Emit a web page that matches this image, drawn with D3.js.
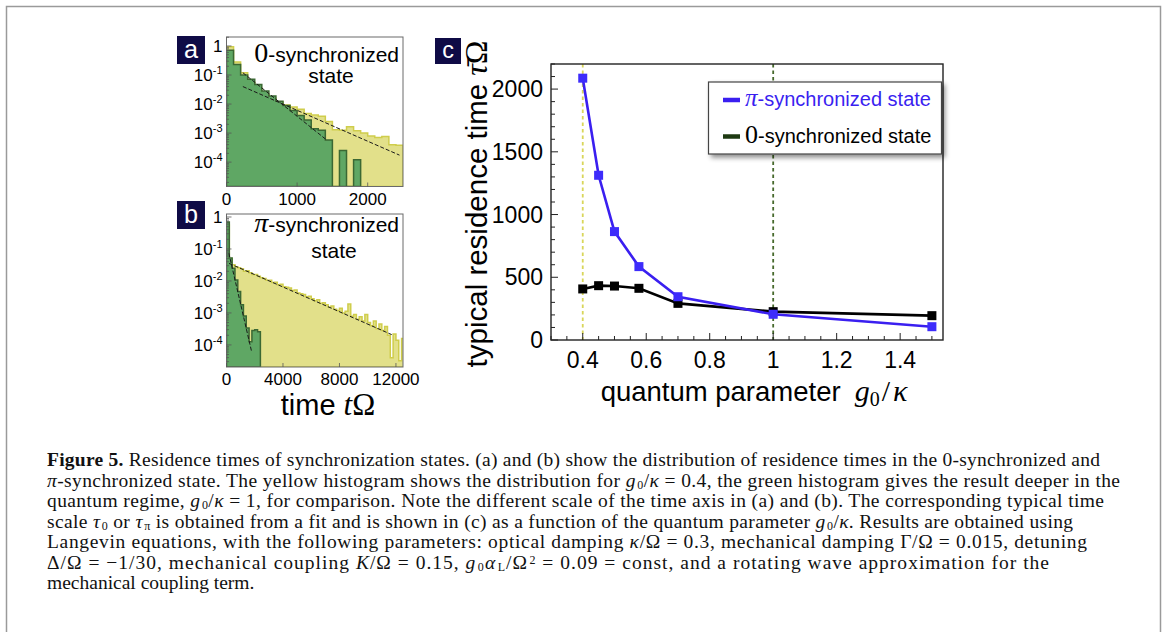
<!DOCTYPE html>
<meta charset="utf-8">
<script src="https://d3js.org/d3.v7.min.js"></script>
<style>
  body { margin: 0; background: #fff; }
</style>
<body>
<script>

// ---- panel a : 0-synchronized state, bins of 100 (time tΩ) ----
var aBinWidth = 100;
var aYellow = [0.95, 0.28, 0.12, 0.056, 0.035, 0.022, 0.0158, 0.0117, 0.0093, 0.0079, 0.0066, 0.0047, 0.0042,
               0.0038, 0.0025, 0.0013, 0.00126, 0.00166, 0.0012, 0.001, 0.00079, 0.00071, 0.00076, 0.0004, 0.00038];
var aGreen = [0.72, 0.23, 0.1, 0.071, 0.047, 0.028, 0.019, 0.0126, 0.0089, 0.006, 0.004, 0.0028, 0.0014,
              0.00126, 0.00058, 0, 0.00025, 0, 0.00012];
var aFitYellow = [[232, 0.04], [2450, 0.000174]];
var aFitGreen = [[232, 0.12], [1420, 0.000575]];
var aXTicks = [0, 1000, 2000];

// ---- panel b : pi-synchronized state, bins of 200 ----
var bBinWidth = 200;
var bYellow = [0.56, 0.05, 0.032, 0.028, 0.026, 0.024, 0.02, 0.021, 0.018, 0.016, 0.016, 0.014, 0.0126, 0.012,
               0.0105, 0.0105, 0.0089, 0.0091, 0.0076, 0.0079, 0.0066, 0.0063, 0.006, 0.005, 0.0052, 0.0042, 0.004,
               0.0038, 0.0032, 0.0033, 0.0028, 0.0024, 0.0026, 0.002, 0.0021, 0.0018, 0.0015, 0.00166, 0.0013,
               0.0012, 0.0014, 0.001, 0.00112, 0.0019, 0.00079, 0.00089, 0.00063, 0.00076, 0.00056, 0.00089,
               0.0005, 0.0004, 0.00056, 0.00032, 0.00045, 0.00028, 0.00038, 0.0002, 0.00004, 0.00022, 0.00014,
               0.000032, 0.00016];
var bGreen = [0.7, 0.052, 0.025, 0.0107, 0.0047, 0.0018, 0.0008, 0.00034, 0.000126, 0.00028, 0.0003, 0.00026];
var bFitYellow = [[177, 0.0355], [11700, 0.00021]];
var bFitGreen = [[165, 0.074], [1785, 0.00006]];
var bXTicks = [0, 4000, 8000, 12000];

var logTickExp = [0, -1, -2, -3, -4];

// ---- panel c : typical residence time vs g0/kappa ----
var gValues = [0.4, 0.45, 0.5, 0.577, 0.7, 1.0, 1.5];
var tauPi = [2087, 1313, 864, 585, 345, 205, 106];
var tauZero = [407, 433, 430, 412, 292, 226, 194];
var cXTicks = [0.4, 0.6, 0.8, 1, 1.2, 1.4];
var cYTicks = [0, 500, 1000, 1500, 2000];
var markLines = [[0.4, "#d9d65a"], [1.0, "#46692c"]];

var captionLines = [
  [["Figure 5.", "b"], [" Residence times of synchronization states. (a) and (b) show the distribution of residence times in the 0-synchronized and", ""]],
  [["π", "i"], ["-synchronized state. The yellow histogram shows the distribution for ", ""], ["g", "i"], ["0", "sub"], ["/", ""], ["κ", "i"], [" = 0.4, the green histogram gives the result deeper in the", ""]],
  [["quantum regime, ", ""], ["g", "i"], ["0", "sub"], ["/", ""], ["κ", "i"], [" = 1, for comparison. Note the different scale of the time axis in (a) and (b). The corresponding typical time", ""]],
  [["scale ", ""], ["τ", "i"], ["0", "sub"], [" or ", ""], ["τ", "i"], ["π", "sub"], [" is obtained from a fit and is shown in (c) as a function of the quantum parameter ", ""], ["g", "i"], ["0", "sub"], ["/", ""], ["κ", "i"], [". Results are obtained using", ""]],
  [["Langevin equations, with the following parameters: optical damping ", ""], ["κ", "i"], ["/Ω = 0.3, mechanical damping Γ/Ω = 0.015, detuning", ""]],
  [["Δ/Ω = −1/30, mechanical coupling ", ""], ["K", "i"], ["/Ω = 0.15, ", ""], ["g", "i"], ["0", "sub"], ["α", "i"], ["L", "sub"], ["/Ω", ""], ["2", "sup"], [" = 0.09 = const, and a rotating wave approximation for the", ""]],
  [["mechanical coupling term.", ""]]
];
var captionEnds = [1100, 1120, 1104, 1073, 1087, 1049, 0];

var yellowFill = "#e2e08a", yellowLine = "#cfcd4c";
var greenFill = "#5fa764", greenLine = "#3b6833";
var navy = "#0f0b46";
var sans = "'Liberation Sans', Arial, sans-serif";
var serif = "'Liberation Serif', 'Times New Roman', serif";

var svg = d3.select("body").append("svg")
  .attr("width", 1165)
  .attr("height", 632)
  .style("font-family", sans);

var defs = svg.append("defs");
defs.append("filter").attr("id", "shadow")
  .attr("x", "-10%").attr("y", "-20%").attr("width", "130%").attr("height", "160%")
  .append("feDropShadow")
    .attr("dx", 3).attr("dy", 3).attr("stdDeviation", 2.5)
    .attr("flood-color", "#000").attr("flood-opacity", 0.45);

// outer frame
svg.append("rect")
  .attr("x", 6.5).attr("y", 6.5)
  .attr("width", 1154).attr("height", 660)
  .attr("fill", "none").attr("stroke", "#9a9a9a").attr("stroke-width", 1.5);

function panelLabel(x, y, w, letter) {
  svg.append("rect").attr("x", x).attr("y", y).attr("width", w).attr("height", w).attr("fill", navy);
  svg.append("text").attr("x", x + w / 2).attr("y", y + w * 0.78)
    .attr("text-anchor", "middle").attr("fill", "white")
    .style("font-size", (w * 0.9) + "px").text(letter);
}

function histPath(x, y, binW, vals, bottom) {
  var p = "M" + x(0) + "," + bottom;
  vals.forEach(function(v, i) {
    var yy = v > 0 ? y(v) : bottom;
    p += "L" + x(i * binW) + "," + yy + "L" + x((i + 1) * binW) + "," + yy;
  });
  p += "L" + x(vals.length * binW) + "," + bottom + "Z";
  return p;
}

function logPanel(id, box, xDomain, yDomain, xTicks, binW, yellow, green, fitY, fitG) {
  var x = d3.scaleLinear().domain(xDomain).range([box.l, box.r]);
  var y = d3.scaleLog().domain(yDomain).range([box.b, box.t]);

  defs.append("clipPath").attr("id", "clip" + id)
    .append("rect").attr("x", box.l).attr("y", box.t)
    .attr("width", box.r - box.l).attr("height", box.b - box.t);

  var plot = svg.append("g").attr("clip-path", "url(#clip" + id + ")");
  plot.append("path")
    .attr("d", histPath(x, y, binW, yellow, box.b))
    .attr("fill", yellowFill).attr("stroke", yellowLine).attr("stroke-width", 1.5);
  plot.append("path")
    .attr("d", histPath(x, y, binW, green, box.b))
    .attr("fill", greenFill).attr("stroke", greenLine).attr("stroke-width", 1.5);

  [fitG, fitY].forEach(function(f) {
    plot.append("line")
      .attr("x1", x(f[0][0])).attr("y1", y(f[0][1]))
      .attr("x2", x(f[1][0])).attr("y2", y(f[1][1]))
      .attr("stroke", "#1a1a1a").attr("stroke-width", 1)
      .attr("stroke-dasharray", "4,2");
  });

  svg.append("rect")
    .attr("x", box.l).attr("y", box.t)
    .attr("width", box.r - box.l).attr("height", box.b - box.t)
    .attr("fill", "none").attr("stroke", "#6a6a6a").attr("stroke-width", 1);

  // log ticks on the left, inside
  y.ticks().forEach(function(t) {
    var major = Math.abs(Math.log10(t) - Math.round(Math.log10(t))) < 1e-6;
    svg.append("line")
      .attr("x1", box.l).attr("x2", box.l + (major ? 5 : 2.5))
      .attr("y1", y(t)).attr("y2", y(t))
      .attr("stroke", "#555").attr("stroke-width", 0.8);
  });
  xTicks.forEach(function(t) {
    svg.append("line")
      .attr("x1", x(t)).attr("x2", x(t))
      .attr("y1", box.b).attr("y2", box.b - 4)
      .attr("stroke", "#555").attr("stroke-width", 0.8);
    svg.append("text")
      .attr("x", x(t)).attr("y", box.b + 18)
      .attr("text-anchor", "middle")
      .style("font-size", "17px")
      .text(t);
  });

  logTickExp.forEach(function(e) {
    var lab = svg.append("text")
      .attr("x", box.l - 4).attr("y", y(Math.pow(10, e)) + 6)
      .attr("text-anchor", "end")
      .style("font-size", "17px");
    if (e === 0) {
      lab.text("1");
    } else {
      lab.append("tspan").text("10");
      lab.append("tspan").attr("dy", -7).style("font-size", "11px").text(e);
    }
  });
  return x;
}

// panel a
panelLabel(177, 36, 28, "a");
logPanel("a", {l: 226.5, r: 403, t: 37, b: 186.5}, [0, 2500], [1.445e-5, 2.04],
  aXTicks, aBinWidth, aYellow, aGreen, aFitYellow, aFitGreen);

var ta = svg.append("text").attr("x", 399).attr("y", 62).attr("text-anchor", "end");
ta.append("tspan").style("font-family", serif).style("font-size", "28px").text("0");
ta.append("tspan").style("font-size", "21px").text("-synchronized");
svg.append("text").attr("x", 331).attr("y", 83).attr("text-anchor", "middle")
  .style("font-size", "21px").text("state");

// panel b
panelLabel(177, 201, 28, "b");
logPanel("b", {l: 226.5, r: 403, t: 214, b: 367}, [0, 12500], [2.04e-5, 1.24],
  bXTicks, bBinWidth, bYellow, bGreen, bFitYellow, bFitGreen);

var tb = svg.append("text").attr("x", 399).attr("y", 232).attr("text-anchor", "end");
tb.append("tspan").style("font-family", serif).style("font-style", "italic").style("font-size", "28px").text("π");
tb.append("tspan").style("font-size", "21px").text("-synchronized");
svg.append("text").attr("x", 334).attr("y", 258).attr("text-anchor", "middle")
  .style("font-size", "21px").text("state");

var tt = svg.append("text").attr("x", 328).attr("y", 415).attr("text-anchor", "middle").style("font-size", "29px");
tt.append("tspan").text("time ");
tt.append("tspan").style("font-family", serif).style("font-style", "italic").style("font-size", "31px").text("t");
tt.append("tspan").style("font-family", serif).style("font-size", "31px").text("Ω");

// panel c
panelLabel(435, 38, 26, "c");
var cBox = {l: 551, r: 943, t: 64, b: 340};
var xC = d3.scaleLinear().domain([0.3, 1.535]).range([cBox.l, cBox.r]);
var yC = d3.scaleLinear().domain([0, 2200]).range([cBox.b, cBox.t]);

markLines.forEach(function(m) {
  svg.append("line")
    .attr("x1", xC(m[0])).attr("x2", xC(m[0]))
    .attr("y1", cBox.t).attr("y2", cBox.b)
    .attr("stroke", m[1]).attr("stroke-width", 1.8)
    .attr("stroke-dasharray", "3.5,3");
});

svg.append("rect")
  .attr("x", cBox.l).attr("y", cBox.t)
  .attr("width", cBox.r - cBox.l).attr("height", cBox.b - cBox.t)
  .attr("fill", "none").attr("stroke", "#222").attr("stroke-width", 1.4);

d3.range(0.3, 1.54, 0.05).forEach(function(t) {
  var major = cXTicks.some(function(m) { return Math.abs(m - t) < 1e-6; });
  svg.append("line")
    .attr("x1", xC(t)).attr("x2", xC(t))
    .attr("y1", cBox.b).attr("y2", cBox.b - (major ? 7 : 4))
    .attr("stroke", "#222").attr("stroke-width", 1);
});
d3.range(0, 2201, 100).forEach(function(t) {
  var major = t % 500 === 0;
  svg.append("line")
    .attr("x1", cBox.l).attr("x2", cBox.l + (major ? 7 : 4))
    .attr("y1", yC(t)).attr("y2", yC(t))
    .attr("stroke", "#222").attr("stroke-width", 1);
});
cXTicks.forEach(function(t) {
  svg.append("text").attr("x", xC(t)).attr("y", 368)
    .attr("text-anchor", "middle").style("font-size", "23px").text(t);
});
cYTicks.forEach(function(t) {
  svg.append("text").attr("x", 543).attr("y", yC(t) + 8)
    .attr("text-anchor", "end").style("font-size", "23px").text(t);
});

var line = d3.line()
  .x(function(d) { return xC(d[0]); })
  .y(function(d) { return yC(d[1]); });

[[tauZero, "#000", "#000"], [tauPi, "#3a1ff0", "#3d2cfb"]].forEach(function(s) {
  var pts = gValues.map(function(g, i) { return [g, s[0][i]]; });
  svg.append("path").attr("d", line(pts))
    .attr("fill", "none").attr("stroke", s[1]).attr("stroke-width", 2.6);
  svg.append("g").selectAll("rect")
    .data(pts).enter().append("rect")
      .attr("x", function(d) { return xC(d[0]) - 4.5; })
      .attr("y", function(d) { return yC(d[1]) - 4.5; })
      .attr("width", 9).attr("height", 9)
      .attr("fill", s[2]);
});

// legend
svg.append("rect")
  .attr("x", 708.5).attr("y", 82).attr("width", 233).attr("height", 72)
  .attr("fill", "white").attr("stroke", "#444").attr("stroke-width", 1.2)
  .attr("filter", "url(#shadow)");
svg.append("line").attr("x1", 723).attr("x2", 740).attr("y1", 100).attr("y2", 100)
  .attr("stroke", "#3a1ff0").attr("stroke-width", 4.5);
svg.append("line").attr("x1", 723).attr("x2", 740).attr("y1", 136.5).attr("y2", 136.5)
  .attr("stroke", "#1e3a12").attr("stroke-width", 4.5);
var l1 = svg.append("text").attr("x", 745).attr("y", 106).attr("fill", "#3a1ff0");
l1.append("tspan").style("font-family", serif).style("font-style", "italic").style("font-size", "25px").text("π");
l1.append("tspan").style("font-size", "20px").text("-synchronized state");
var l2 = svg.append("text").attr("x", 745).attr("y", 143);
l2.append("tspan").style("font-family", serif).style("font-size", "26px").text("0");
l2.append("tspan").style("font-size", "20px").text("-synchronized state");

// axis titles
var xt = svg.append("text").attr("x", 754).attr("y", 401).attr("text-anchor", "middle").style("font-size", "27.5px");
xt.append("tspan").text("quantum parameter");
xt.append("tspan").attr("dx", 14).style("font-family", serif).style("font-style", "italic").style("font-size", "30px").text("g");
xt.append("tspan").attr("dy", 5).style("font-family", serif).style("font-size", "20px").text("0");
xt.append("tspan").attr("dy", -5).attr("dx", 2).style("font-family", serif).style("font-size", "30px").text("/");
xt.append("tspan").attr("dx", 3).style("font-family", serif).style("font-style", "italic").style("font-size", "30px").text("κ");

var yt = svg.append("text").attr("transform", "translate(487,204) rotate(-90)")
  .attr("text-anchor", "middle").style("font-size", "29.5px");
yt.append("tspan").text("typical residence time");
yt.append("tspan").attr("dx", 8).style("font-family", serif).style("font-style", "italic").style("font-size", "32px").text("τ\u0304");
yt.append("tspan").style("font-family", serif).style("font-size", "32px").text("Ω");

// caption
captionLines.forEach(function(segs, li) {
  var t = svg.append("text")
    .attr("x", 47).attr("y", 466 + li * 20.5)
    .style("font-family", serif).style("font-size", "19.5px").attr("fill", "#111");
  if (captionEnds[li] > 0) {
    t.attr("textLength", captionEnds[li] - 47).attr("lengthAdjust", "spacing");
  }
  var shift = 0;
  segs.forEach(function(s) {
    var sp = t.append("tspan").text(s[0]);
    var target = s[1] === "sub" ? 2 : (s[1] === "sup" ? -5 : 0);
    if (target !== shift) { sp.attr("dy", target - shift); shift = target; }
    if (s[1] === "b") sp.style("font-weight", "bold");
    if (s[1] === "i") sp.style("font-style", "italic");
    if (s[1] === "sub" || s[1] === "sup") sp.attr("dx", 1.5).style("font-size", "12px");
  });
});

</script>
</body>
